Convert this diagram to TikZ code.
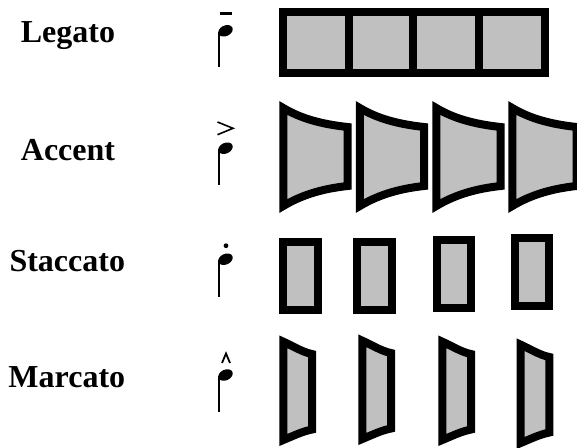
\documentclass[tikz,border=0pt]{standalone}
\usepackage{fontspec}
\setmainfont{Liberation Serif}
\tikzset{
  shp/.style={draw=black, fill=shapegray, line width=8pt, line join=miter},
  lbl/.style={anchor=base west, inner sep=0pt, font=\fontsize{32}{38}\selectfont\bfseries},
  stem/.style={line width=2.2pt},
}
\definecolor{shapegray}{RGB}{192,192,192}
\begin{document}
\begin{tikzpicture}[x=1pt,y=-1pt]
\useasboundingbox (0,0) rectangle (577,447);
\clip (0,0) rectangle (577,447);
% labels
\node[lbl] (legato) at (20.7,42.7) {Legato};
\node[lbl] (accent) at (20.7,160) {Accent};
\node[lbl] (staccato) at (9.3,271.7) {Staccato};
\node[lbl] (marcato) at (8.3,387.3) {Marcato};
% notes
\foreach \hy/\se in {30.8/66.7, 148.2/185, 259.2/296.7, 375/411.7}{
  \fill[rotate around={25:(225.5,\hy)}] (225.5,\hy) ellipse [x radius=7.6, y radius=5.3];
  \draw[stem] (219.3,\hy+1) -- (219.3,\se);
}
\draw[line width=2.4pt] (220,13.3) -- (232.3,13.3);
\draw[line width=1.6pt, line join=miter] (217.5,122) -- (233,128.3) -- (217.5,134.7);
\fill (226,245.7) circle [radius=2.4];
\draw[line width=1.8pt, line join=miter] (222,363) -- (226,353.5) -- (230,363);
% legato
\draw[shp] (283.3,12.3) rectangle (545.3,73.3);
\draw[line width=8pt] (349.3,12.3) -- (349.3,73.3);
\draw[line width=8pt] (413.3,12.3) -- (413.3,73.3);
\draw[line width=8pt] (479.2,12.3) -- (479.2,73.3);
% accent
\foreach \dx in {0,76.5,153,229}{
  \draw[shp, shift={(\dx,0)}] (283.3,108) .. controls (300,118) and (320,124) .. (347.5,127)
     -- (347.5,186) .. controls (320,189) and (300,196) .. (283.3,206) -- cycle;
}
% staccato
\draw[shp] (283.3,241.7) rectangle (317.7,310);
\draw[shp] (357.3,241.7) rectangle (392,310);
\draw[shp] (436.7,240) rectangle (471,308.3);
\draw[shp] (514.7,238.3) rectangle (549.3,306);
% marcato
\foreach \dx/\dy in {0/0, 79/-1, 159/0, 237.4/3}{
  \draw[shp, shift={(\dx,\dy)}] (283.3,341.7) .. controls (293,346) and (302,352) .. (312,354)
     -- (312,429.5) .. controls (302,431.5) and (293,436) .. (283.3,440) -- cycle;
}
\end{tikzpicture}
\end{document}
